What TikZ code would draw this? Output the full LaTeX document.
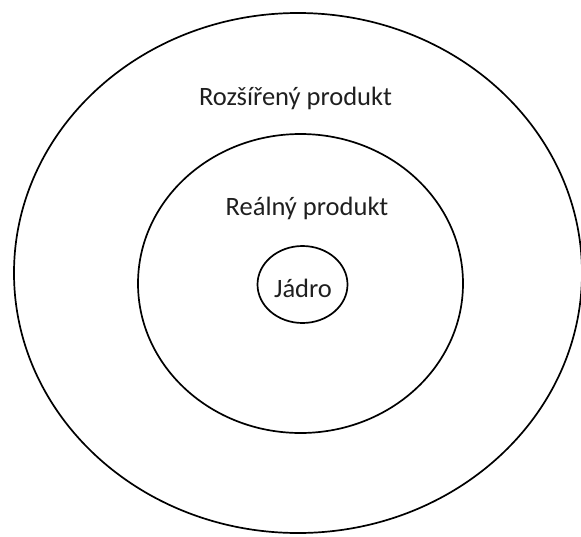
\documentclass[tikz,border=0pt]{standalone}
\usepackage{fontspec}
\setmainfont{Carlito}
\begin{document}
\begin{tikzpicture}[x=1pt,y=-1pt,
  ring/.style={draw=black,line width=1.7pt},
  lbl/.style={font=\fontsize{26.5}{31}\selectfont,text=black!88,anchor=base,inner sep=0pt}]
\useasboundingbox (0,0) rectangle (581,536);
\draw[ring] (298,273) ellipse [x radius=284, y radius=260];
\draw[ring] (300.5,283.5) ellipse [x radius=162.5, y radius=149.5];
\draw[ring] (302.5,284.5) ellipse [x radius=45, y radius=38.5];
\node[lbl] (outer) at (295.5,105) {Rozšířený produkt};
\node[lbl] (middle) at (307,215) {Reálný produkt};
\node[lbl] (core) at (303,297) {Jádro};
\end{tikzpicture}
\end{document}
